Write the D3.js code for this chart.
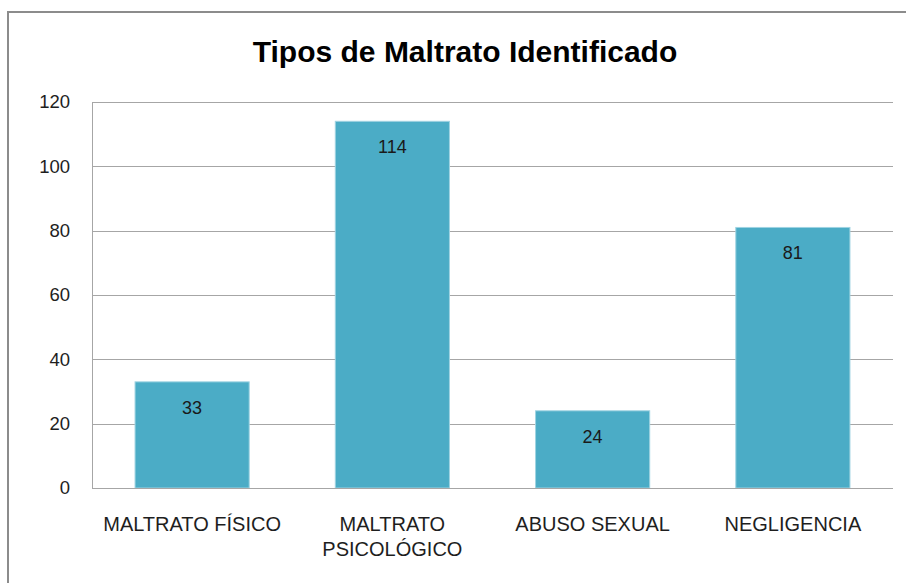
<!DOCTYPE html>
<html lang="es">
<head>
<meta charset="UTF-8">
<title>Tipos de Maltrato Identificado</title>
<script src="https://d3js.org/d3.v7.min.js"></script>
<style>
    body { margin: 0; background: #fff; font-family: "Liberation Sans", Arial, sans-serif; }
    svg { display: block; }
    .grid line { stroke: #a6a6a6; stroke-width: 1; }
    .axis text { fill: #1e1e1e; }
    .bar { fill: #4bacc6; stroke: #9fd3e2; stroke-width: 1; }
    .value { font-size: 18px; fill: #1a1a1a; text-anchor: middle; }
</style>
</head>
<body>
<svg id="chart" width="906" height="583"></svg>
<script>
    // datos del grafico
    const categorias = [["MALTRATO FÍSICO"], ["MALTRATO", "PSICOLÓGICO"], ["ABUSO SEXUAL"], ["NEGLIGENCIA"]];
    const valores = [33, 114, 24, 81];
    const ticksY = [0, 20, 40, 60, 80, 100, 120];

    const svg = d3.select("#chart");

    // marco exterior
    svg.append("rect")
        .attr("x", 8).attr("y", 12)
        .attr("width", 920).attr("height", 600)
        .attr("fill", "#fff")
        .attr("stroke", "#8c8c8c")
        .attr("stroke-width", 2);

    svg.append("text")
        .attr("x", 465).attr("y", 62)
        .attr("text-anchor", "middle")
        .style("font-size", "30px")
        .style("font-weight", "bold")
        .style("fill", "#000")
        .text("Tipos de Maltrato Identificado");

    const margin = { top: 102, left: 92, right: 13, bottom: 95 };
    const width = 906 - margin.left - margin.right;
    const height = 583 - margin.top - margin.bottom;

    const g = svg.append("g").attr("transform", `translate(${margin.left},${margin.top})`);

    const x = d3.scaleBand()
        .domain(d3.range(valores.length))
        .range([0, width])
        .paddingInner(0.43)
        .paddingOuter(0.215);

    const y = d3.scaleLinear().domain([0, 120]).range([height, 0]);

    // lineas de cuadricula
    g.append("g").attr("class", "grid")
        .selectAll("line")
        .data(ticksY)
        .join("line")
        .attr("x1", 0).attr("x2", width)
        .attr("y1", d => Math.round(y(d)) + 0.5)
        .attr("y2", d => Math.round(y(d)) + 0.5);

    // eje Y
    const ejeY = g.append("g").attr("class", "axis")
        .call(d3.axisLeft(y).tickValues(ticksY).tickSize(0).tickPadding(22));
    ejeY.select(".domain").attr("stroke", "#a6a6a6");
    ejeY.selectAll("text").style("font-size", "18.5px").attr("font-family", null);

    g.selectAll(".bar")
        .data(valores)
        .join("rect")
        .attr("class", "bar")
        .attr("x", (d, i) => x(i))
        .attr("y", d => y(d))
        .attr("width", x.bandwidth())
        .attr("height", d => height - y(d));

    g.selectAll(".value")
        .data(valores)
        .join("text")
        .attr("class", "value")
        .attr("x", (d, i) => x(i) + x.bandwidth() / 2)
        .attr("y", d => y(d) + 32)
        .text(d => d);

    // eje X
    g.append("line")
        .attr("x1", 0).attr("x2", width)
        .attr("y1", height + 0.5).attr("y2", height + 0.5)
        .attr("stroke", "#a6a6a6");

    const etiquetas = g.append("g").attr("class", "axis")
        .selectAll("text")
        .data(categorias)
        .join("text")
        .attr("x", (d, i) => x(i) + x.bandwidth() / 2)
        .attr("y", height + 43)
        .attr("text-anchor", "middle")
        .style("font-size", "20px");

    etiquetas.selectAll("tspan")
        .data(d => d)
        .join("tspan")
        .attr("x", function () { return d3.select(this.parentNode).attr("x"); })
        .attr("dy", (d, i) => i === 0 ? 0 : 25)
        .text(d => d);
</script>
</body>
</html>
